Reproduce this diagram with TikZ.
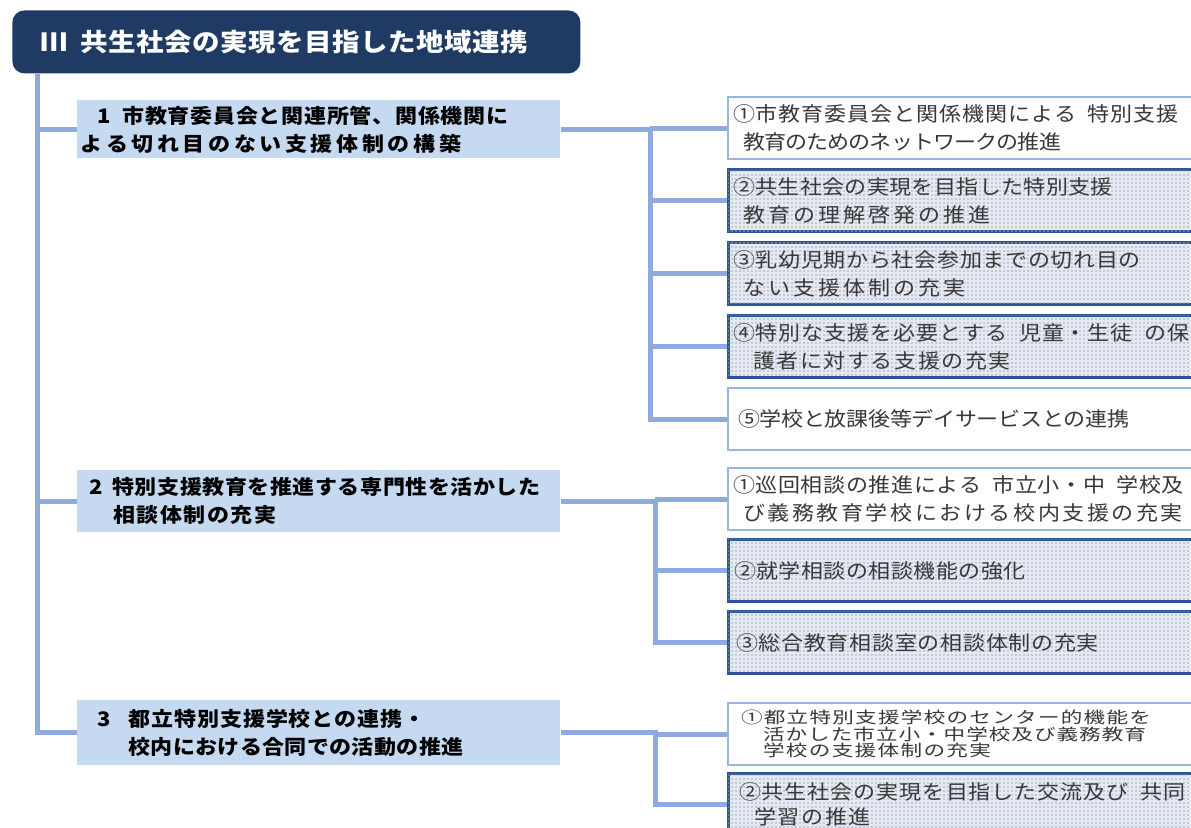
\documentclass[tikz,border=0pt]{standalone}
\usepackage{fontspec}
\newfontfamily\jp[FakeStretch=1.1]{Noto Sans CJK JP}
\newfontfamily\jpwide[FakeStretch=1.35]{Noto Sans CJK JP}
\usetikzlibrary{positioning, patterns.meta}

\definecolor{navy}{RGB}{31,58,99}
\definecolor{linkblue}{RGB}{143,170,220}
\definecolor{paleblue}{RGB}{197,217,240}
\definecolor{edgeblue}{RGB}{150,183,225}
\definecolor{deepblue}{RGB}{47,84,150}
\definecolor{dotbase}{RGB}{229,233,241}
\definecolor{dotgray}{RGB}{160,168,186}
\definecolor{textgray}{RGB}{55,55,55}

% spread a line of single characters to a given width
\newcount\fitn
\newdimen\fitk
\def\fitstop{\fitstop}
\def\fitgap{\kern5pt}
\def\fitcount#1{\ifx\fitstop#1\else\advance\fitn by 1 \expandafter\fitcount\fi}
\def\fitput#1{\ifx\fitstop#1\else#1\kern\fitk\expandafter\fitput\fi}
\newcommand\fitline[2]{\setbox0\hbox{#2}\fitn=0 \fitcount#2\fitstop
  \fitk=#1\relax\advance\fitk by -\wd0
  \ifnum\fitn>1 \divide\fitk by \numexpr\fitn-1\relax\fi
  \fitput#2\fitstop\unkern}

\begin{document}
\begin{tikzpicture}[ x = 0.5pt, y = -0.5pt
                     , link/.style = { draw = linkblue, line width = 2.5pt }
                     , headbox/.style = { anchor = north west, fill = navy
                                        , rounded corners = 6pt
                                        , minimum width = 284pt, minimum height = 31.5pt
                                        , text width = 284pt, inner xsep = 0pt
                                        , align = left, text = white
                                        , font = \jp\bfseries\fontsize{12.5pt}{15pt}\selectfont }
                     , mainbox/.style = { anchor = north west, fill = paleblue
                                        , minimum height = 31pt, text width = 239.5pt
                                        , inner xsep = 1pt, inner ysep = 0pt
                                        , align = left
                                        , font = \jp\bfseries\fontsize{10pt}{14pt}\selectfont }
                     , itembox/.style = { anchor = north west
                                        , minimum height = 31pt, text width = 236pt
                                        , inner xsep = 2pt, inner ysep = 0pt
                                        , align = left, text = textgray
                                        , font = \jp\fontsize{10pt}{14pt}\selectfont }
                     , whitebox/.style = { itembox, draw = edgeblue, line width = 1pt, fill = white }
                     , dotbox/.style = { itembox, draw = deepblue, line width = 1.5pt, fill = dotbase
                                       , postaction = { pattern = {Dots[distance = 2pt, radius = 0.4pt]}
                                                      , pattern color = dotgray } }
                     ]

  \useasboundingbox (0,0) rectangle (1191,827);

  \node (title) [headbox] at (12,10)
    {\rlap{\hspace*{14pt}Ⅲ}\hspace*{34pt}\fitline{224pt}{共生社会の実現を目指した地域連携}};

  \node (b1) [mainbox, minimum height = 29pt] at (77,100)
    {\rlap{\hspace*{9pt}1}\hspace*{21.5pt}\fitline{193pt}{市教育委員会と関連所管、関係機関に}\\
     \hspace*{0.5pt}\fitline{190pt}{よる切れ目のない支援体制の構築}};
  \node (b2) [mainbox] at (77,470)
    {\rlap{\hspace*{5pt}2}\hspace*{16.5pt}\fitline{214pt}{特別支援教育を推進する専門性を活かした}\\
     \hspace*{17pt}\fitline{81.5pt}{相談体制の充実}};
  \node (b3) [mainbox, minimum height = 32.5pt] at (77,700)
    {\rlap{\hspace*{9pt}3}\hspace*{24.5pt}\fitline{148.5pt}{都立特別支援学校との連携・}\\
     \hspace*{24.5pt}\fitline{167.5pt}{校内における合同での活動の推進}};

  \node (r11) [whitebox] at (727,96)
    {\hspace*{0.5pt}\fitline{222.5pt}{①市教育委員会と関係機関による\fitgap 特別支援}\\
     \hspace*{5.5pt}\fitline{159pt}{教育のためのネットワークの推進}};
  \node (r12) [dotbox, below = 4pt of r11]
    {\hspace*{0.5pt}\fitline{190pt}{②共生社会の実現を目指した特別支援}\\
     \hspace*{5.5pt}\fitline{124pt}{教育の理解啓発の推進}};
  \node (r13) [dotbox, below = 4pt of r12]
    {\hspace*{0.5pt}\fitline{204pt}{③乳幼児期から社会参加までの切れ目の}\\
     \hspace*{5.5pt}\fitline{111.5pt}{ない支援体制の充実}};
  \node (r14) [dotbox, below = 4pt of r13]
    {\hspace*{0.5pt}\fitline{228pt}{④特別な支援を必要とする\fitgap 児童・生徒\fitgap の保}\\
     \hspace*{10.5pt}\fitline{129pt}{護者に対する支援の充実}};
  \node (r15) [whitebox, below = 4pt of r14]
    {\hspace*{3pt}\fitline{195.5pt}{⑤学校と放課後等デイサービスとの連携}};

  \node (r21) [whitebox] at (727,467)
    {\hspace*{0.5pt}\fitline{225pt}{①巡回相談の推進による\fitgap 市立小・中\fitgap 学校及}\\
     \hspace*{5.5pt}\fitline{220pt}{び義務教育学校における校内支援の充実}};
  \node (r22) [dotbox, below = 3.5pt of r21]
    {\hspace*{1pt}\fitline{146pt}{②就学相談の相談機能の強化}};
  \node (r23) [dotbox, below = 3.5pt of r22]
    {\hspace*{2pt}\fitline{181.5pt}{③総合教育相談室の相談体制の充実}};

  \node (r31) [whitebox, font = \jpwide\fontsize{8pt}{8.25pt}\selectfont] at (727,702)
    {\hspace*{4.5pt}\fitline{205pt}{①都立特別支援学校のセンター的機能を}\\
     \hspace*{15.5pt}\fitline{191.5pt}{活かした市立小・中学校及び義務教育}\\
     \hspace*{15.5pt}\fitline{114pt}{学校の支援体制の充実}};
  \node (r32) [dotbox, below = 3pt of r31, font = \jp\fontsize{10pt}{12.5pt}\selectfont]
    {\hspace*{3.5pt}\fitline{223.5pt}{②共生社会の実現を目指した交流及び\fitgap 共同}\\
     \hspace*{11pt}\fitline{58.5pt}{学習の推進}};

  \coordinate (trunk) at (37,0);
  \coordinate (g1) at (650,0);
  \coordinate (g2) at (655,0);
  \coordinate (g3) at (655,0);

  \draw[link] (title.south -| trunk) |- (b3.west);
  \draw[link] (trunk |- b1.west) -- (b1.west);
  \draw[link] (trunk |- b2.west) -- (b2.west);

  \draw[link] (b1.east) -| (g1 |- r15.west) -- (r15.west);
  \foreach \r in {r11, r12, r13, r14}
    \draw[link] (g1 |- \r.west) -- (\r.west);

  \draw[link] (b2.east) -| (g2 |- r23.west) -- (r23.west);
  \foreach \r in {r21, r22}
    \draw[link] (g2 |- \r.west) -- (\r.west);

  \draw[link] (b3.east) -| (g3 |- r32.west) -- (r32.west);
  \draw[link] (g3 |- r31.west) -- (r31.west);

\end{tikzpicture}
\end{document}
